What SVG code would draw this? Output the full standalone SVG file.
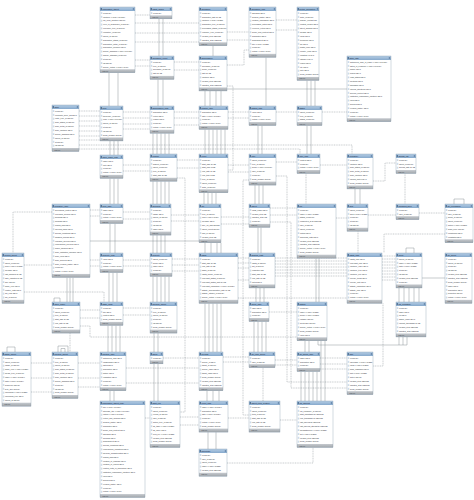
<svg xmlns="http://www.w3.org/2000/svg" width="474" height="500" viewBox="0 0 474 500">
<defs>
<linearGradient id="hg" x1="0" y1="0" x2="0" y2="1"><stop offset="0" stop-color="#b6cee6"/><stop offset="1" stop-color="#86a9cc"/></linearGradient>
<linearGradient id="fg" x1="0" y1="0" x2="0" y2="1"><stop offset="0" stop-color="#c6cacf"/><stop offset="1" stop-color="#a0a6ab"/></linearGradient>
<pattern id="ic" x="0.8" y="4" width="1.5" height="3.85" patternUnits="userSpaceOnUse"><path d="M.75 1.1L1.3 1.95L.75 2.8L.2 1.95Z" fill="#5b8cc2"/></pattern>
</defs>
<style>
.b{fill:#fff}
.o{fill:none;stroke:#7f94aa;stroke-width:.35}
.h{fill:url(#hg)}
.f{fill:url(#fg)}
.i{fill:url(#ic)}
.hl{fill:#4f6f93}
.hi{fill:#6d8db0}
.tt{font-family:"Liberation Sans",Arial,sans-serif;font-size:2px;fill:#13233a}
.r{font-family:"Liberation Sans",Arial,sans-serif;font-size:1.9px;fill:#2f353b}
.fx{font-family:"Liberation Sans",Arial,sans-serif;font-size:1.6px;fill:#3c4248}
.s{fill:none;stroke:#6f7880;stroke-width:.4}
.d{fill:none;stroke:#6f7880;stroke-width:.4;stroke-dasharray:1 .7}
</style>
<rect width="474" height="500" fill="#fff"/>
<g id="connectors">
<path class="s" d="M109 72.75V106M118 72.75V106M110 141V155M114 141V155M118 141V155M110 178.4V204M114 178.4V204M118 178.4V204M110 223.5V253M115 223.5V253M109 272.5V302M113 272.5V302M117 272.5V302M108 325.4V352M112 325.4V352M116 325.4V352M120 325.4V352M110 390.8V401M114 390.8V401"/>
<path class="s" d="M159 18.85V56M163 18.85V56M158 79.4V106M163 79.4V106M153 133.25V154M157 133.25V154M161 133.25V154M165 133.25V154M169 133.25V154M153 181.25V204M157 181.25V204M161 181.25V204M165 181.25V204M169 181.25V204M153 235.1V253M157 235.1V253M161 235.1V253M165 235.1V253M153 276.4V302M157 276.4V302M161 276.4V302M165 276.4V302M169 276.4V302M154 333.1V352M158 333.1V352M154 363.85V401M158 363.85V401"/>
<path class="s" d="M213 45.8V56M205 90.95V106M210 90.95V106M216 90.95V106M221 90.95V106M205 129.4V154M209 129.4V154M213 129.4V154M217 129.4V154M221 129.4V154M225 129.4V154M204 192.8V204M208 192.8V204M212 192.8V204M216 192.8V204M205 242.8V253M211 242.8V253M217 242.8V253M221 242.8V253M205 303.35V352M209 303.35V352M213 303.35V352M217 303.35V352M221 303.35V352M207 390.8V401M213 390.8V401M219 390.8V401M208 432.1V449M216 432.1V449"/>
<path class="s" d="M266 57.35V106M258 125.55V154M262 125.55V154M255 185.1V204M259 185.1V204M263 185.1V204M258 227.4V253M261 227.4V253M256 287.95V302M260 287.95V302M264 287.95V302M254 321.55V352M258 321.55V352M262 321.55V352M266 321.55V352"/>
<path class="s" d="M307 80.45V106M311 80.45V106M315 80.45V106M307 125.55V154M311 125.55V154M316 258.2V302M319 258.2V302M305 340.8V352M309 340.8V352M301 371.55V401M305 371.55V401M309 371.55V401M313 371.55V401M317 371.55V401M321 340.8V401M325 340.8V401"/>
<path class="s" d="M355 188.95V204M360 188.95V204M399 287.95V302M404 287.95V302M409 287.95V302M414 287.95V302M419 287.95V302M67 277.45V302M70 277.45V302M73 277.45V302"/>
<path class="s" d="M227 89H347M90 241H199M422 278H445M318 340.8V345H407V336.95M399 345V336.95M403 345V336.95"/>
<path class="s" d="M7 352V347H15V352M58 352V346H68V352M61 352V348.5H65V352M54 302V298H60V302M454 204V199H464V204M406 253V248H414V253"/>
<path class="d" d="M263 367.7V401M306 173.55V204M358 231.25V253M405 173.55V204M70 333.1V352"/>
<path class="d" d="M79 111H100M79 116H100M79 121H100M79 126H100M79 131H100M79 136H100M79 140H100M135 15H150M135 23H199M135 33H199M135 42H199M135 60H150M135 66H150M174 62H199M174 70H199M227 32H249M227 40H249M276 20H297M276 30H297M227 65H244V50H249"/>
<path class="d" d="M123 112H150M123 118H150M123 124H150M123 129H150M174 112H199M174 118H199M174 125H199M228 112H249M228 118H249M276 112H297M322 112H347M79 145H352V154M79 149H300V154M227 86H233V170H228"/>
<path class="d" d="M123 165H150M123 171H150M177 160H199M177 168H199M228 165H249M228 172H249M276 162H297M320 165H347M373 181H385V163H396"/>
<path class="d" d="M90 210H100M90 216H100M123 212H150M123 219H150M171 215H199M171 221H199M221 217H249M221 224H249M270 208H297M270 215H297M336 218H347M368 215H396M419 213H445M445 234H384V253M52 212H13V253M24 265H52M90 260H100M90 266H100M24 292H104V302"/>
<path class="d" d="M123 260H150M123 266H150M172 259H199M172 265H199M172 271H199M238 258H249M238 263H249M238 268H249M238 280H249M275 258H347M275 261H347M275 264H347M275 267H347M275 270H347M275 273H347M275 276H347M382 256H396M382 259H396M382 262H396M382 265H396M382 268H396M382 271H396M382 274H396M382 277H396M382 280H396M238 298H347"/>
<path class="d" d="M80 310H100M80 318H100M123 308H150M123 315H150M269 312H297M383 303.35V366H373M80 326H90V337H297M177 178H185V412H180M249 180H243V415H249M276 176H287V382H347M270 222H291V388H347"/>
<path class="d" d="M31 363H52M31 378H52M31 392H52M78 363H100M78 378H100M78 387H100M126 368H199M126 383H199M163 358H199M223 357H249M223 362H249M275 360H297M275 365H297M320 358H347M320 364H347M320 369H347M145 418H150M180 417H199M180 425H199M228 418H249M280 420H297M227 463H313V447.5"/>
</g>
<g id="information_object" transform="translate(100,7)"><rect class="b" width="35" height="65.75"/><rect class="h" width="35" height="4"/><rect class="hl" x="0.6" y="1" width="1.3" height="2"/><rect class="hi" x="32.8" y="1" width="1.4" height="2"/><text class="tt" x="2.4" y="2.9">information_object</text><rect class="i" x="0.8" y="4" width="1.5" height="57.75"/><text class="r"><tspan x="3" y="6.75">id INT(11)</tspan><tspan x="3" dy="3.85">identifier VARCHAR(1024)</tspan><tspan x="3" dy="3.85">oai_local_identifier INT(11)</tspan><tspan x="3" dy="3.85">level_of_description_id INT(11)</tspan><tspan x="3" dy="3.85">collection_type_id INT(11)</tspan><tspan x="3" dy="3.85">repository_id INT(11)</tspan><tspan x="3" dy="3.85">parent_id INT(11)</tspan><tspan x="3" dy="3.85">description_status_id INT(11)</tspan><tspan x="3" dy="3.85">description_detail_id INT(11)</tspan><tspan x="3" dy="3.85">description_identifier TEXT</tspan><tspan x="3" dy="3.85">source_standard VARCHAR(1024)</tspan><tspan x="3" dy="3.85">display_standard_id INT(11)</tspan><tspan x="3" dy="3.85">lft INT(11)</tspan><tspan x="3" dy="3.85">rgt INT(11)</tspan><tspan x="3" dy="3.85">source_culture VARCHAR(16)</tspan></text><rect class="f" y="62.25" width="35" height="3.5"/><text class="fx" x="2.4" y="64.75">Indexes</text><rect class="o" width="35" height="65.75"/></g>
<g id="rights_holder" transform="translate(150,7)"><rect class="b" width="22" height="11.85"/><rect class="h" width="22" height="4"/><rect class="hl" x="0.6" y="1" width="1.3" height="2"/><rect class="hi" x="19.8" y="1" width="1.4" height="2"/><text class="tt" x="2.4" y="2.9">rights_holder</text><rect class="i" x="0.8" y="4" width="1.5" height="3.85"/><text class="r"><tspan x="3" y="6.75">id INT(11)</tspan></text><rect class="f" y="8.35" width="22" height="3.5"/><text class="fx" x="2.4" y="10.85">Indexes</text><rect class="o" width="22" height="11.85"/></g>
<g id="accession" transform="translate(199,7)"><rect class="b" width="28" height="38.8"/><rect class="h" width="28" height="4"/><rect class="hl" x="0.6" y="1" width="1.3" height="2"/><rect class="hi" x="25.8" y="1" width="1.4" height="2"/><text class="tt" x="2.4" y="2.9">accession</text><rect class="i" x="0.8" y="4" width="1.5" height="30.8"/><text class="r"><tspan x="3" y="6.75">id INT(11)</tspan><tspan x="3" dy="3.85">acquisition_date DATE</tspan><tspan x="3" dy="3.85">identifier VARCHAR(255)</tspan><tspan x="3" dy="3.85">acquisition_type_id INT(11)</tspan><tspan x="3" dy="3.85">processing_status_id INT(11)</tspan><tspan x="3" dy="3.85">resource_type_id INT(11)</tspan><tspan x="3" dy="3.85">created_at DATETIME</tspan><tspan x="3" dy="3.85">updated_at DATETIME</tspan></text><rect class="f" y="35.3" width="28" height="3.5"/><text class="fx" x="2.4" y="37.8">Indexes</text><rect class="o" width="28" height="38.8"/></g>
<g id="accession_i18n" transform="translate(249,7)"><rect class="b" width="27" height="50.35"/><rect class="h" width="27" height="4"/><rect class="hl" x="0.6" y="1" width="1.3" height="2"/><rect class="hi" x="24.8" y="1" width="1.4" height="2"/><text class="tt" x="2.4" y="2.9">accession_i18n</text><rect class="i" x="0.8" y="4" width="1.5" height="42.35"/><text class="r"><tspan x="3" y="6.75">appraisal TEXT</tspan><tspan x="3" dy="3.85">archival_history TEXT</tspan><tspan x="3" dy="3.85">location_information TEXT</tspan><tspan x="3" dy="3.85">processing_notes TEXT</tspan><tspan x="3" dy="3.85">received_extent TEXT</tspan><tspan x="3" dy="3.85">scope_and_content TEXT</tspan><tspan x="3" dy="3.85">acquisition TEXT</tspan><tspan x="3" dy="3.85">arrangement TEXT</tspan><tspan x="3" dy="3.85">title VARCHAR(255)</tspan><tspan x="3" dy="3.85">id INT(11)</tspan><tspan x="3" dy="3.85">culture VARCHAR(16)</tspan></text><rect class="f" y="46.85" width="27" height="3.5"/><text class="fx" x="2.4" y="49.35">Indexes</text><rect class="o" width="27" height="50.35"/></g>
<g id="contact_information" transform="translate(297,7)"><rect class="b" width="22" height="73.45"/><rect class="h" width="22" height="4"/><rect class="hl" x="0.6" y="1" width="1.3" height="2"/><rect class="hi" x="19.8" y="1" width="1.4" height="2"/><text class="tt" x="2.2" y="2.9" style="font-size:1.85px">contact_information</text><rect class="i" x="0.8" y="4" width="1.5" height="65.45"/><text class="r"><tspan x="3" y="6.75">id INT(11)</tspan><tspan x="3" dy="3.85">actor_id INT(11)</tspan><tspan x="3" dy="3.85">primary_contact INT</tspan><tspan x="3" dy="3.85">contact_person TEXT</tspan><tspan x="3" dy="3.85">street_address TEXT</tspan><tspan x="3" dy="3.85">website TEXT</tspan><tspan x="3" dy="3.85">email TEXT</tspan><tspan x="3" dy="3.85">telephone TEXT</tspan><tspan x="3" dy="3.85">fax TEXT</tspan><tspan x="3" dy="3.85">postal_code TEXT</tspan><tspan x="3" dy="3.85">country_code TEXT</tspan><tspan x="3" dy="3.85">longitude FLOAT</tspan><tspan x="3" dy="3.85">latitude FLOAT</tspan><tspan x="3" dy="3.85">region TEXT</tspan><tspan x="3" dy="3.85">city TEXT</tspan><tspan x="3" dy="3.85">note TEXT</tspan><tspan x="3" dy="3.85">serial_number INT(11)</tspan></text><rect class="f" y="69.95" width="22" height="3.5"/><text class="fx" x="2.4" y="72.45">Indexes</text><rect class="o" width="22" height="73.45"/></g>
<g id="accession_event" transform="translate(150,56)"><rect class="b" width="24" height="23.4"/><rect class="h" width="24" height="4"/><rect class="hl" x="0.6" y="1" width="1.3" height="2"/><rect class="hi" x="21.8" y="1" width="1.4" height="2"/><text class="tt" x="2.4" y="2.9">accession_event</text><rect class="i" x="0.8" y="4" width="1.5" height="15.4"/><text class="r"><tspan x="3" y="6.75">id INT(11)</tspan><tspan x="3" dy="3.85">type_id INT(11)</tspan><tspan x="3" dy="3.85">accession_id INT(11)</tspan><tspan x="3" dy="3.85">date DATE</tspan></text><rect class="f" y="19.9" width="24" height="3.5"/><text class="fx" x="2.4" y="22.4">Indexes</text><rect class="o" width="24" height="23.4"/></g>
<g id="deaccession" transform="translate(199,56)"><rect class="b" width="28" height="34.95"/><rect class="h" width="28" height="4"/><rect class="hl" x="0.6" y="1" width="1.3" height="2"/><rect class="hi" x="25.8" y="1" width="1.4" height="2"/><text class="tt" x="2.4" y="2.9">deaccession</text><rect class="i" x="0.8" y="4" width="1.5" height="26.95"/><text class="r"><tspan x="3" y="6.75">id INT(11)</tspan><tspan x="3" dy="3.85">accession_id INT(11)</tspan><tspan x="3" dy="3.85">scope_id INT(11)</tspan><tspan x="3" dy="3.85">date DATE</tspan><tspan x="3" dy="3.85">identifier TEXT</tspan><tspan x="3" dy="3.85">created_at DATETIME</tspan><tspan x="3" dy="3.85">updated_at DATETIME</tspan></text><rect class="f" y="31.45" width="28" height="3.5"/><text class="fx" x="2.4" y="33.95">Indexes</text><rect class="o" width="28" height="34.95"/></g>
<g id="actor_i18n" transform="translate(347,56)"><rect class="b" width="44" height="65.75"/><rect class="h" width="44" height="4"/><rect class="hl" x="0.6" y="1" width="1.3" height="2"/><rect class="hi" x="41.8" y="1" width="1.4" height="2"/><text class="tt" x="2.4" y="2.9">actor_i18n</text><rect class="i" x="0.8" y="4" width="1.5" height="57.75"/><text class="r"><tspan x="3" y="6.75">authorized_form_of_name VARCHAR(1024)</tspan><tspan x="3" dy="3.85">dates_of_existence VARCHAR(1024)</tspan><tspan x="3" dy="3.85">history TEXT</tspan><tspan x="3" dy="3.85">places TEXT</tspan><tspan x="3" dy="3.85">legal_status TEXT</tspan><tspan x="3" dy="3.85">functions TEXT</tspan><tspan x="3" dy="3.85">mandates TEXT</tspan><tspan x="3" dy="3.85">internal_structures TEXT</tspan><tspan x="3" dy="3.85">general_context TEXT</tspan><tspan x="3" dy="3.85">institution_responsible_identifier TEXT</tspan><tspan x="3" dy="3.85">rules TEXT</tspan><tspan x="3" dy="3.85">sources TEXT</tspan><tspan x="3" dy="3.85">revision_history TEXT</tspan><tspan x="3" dy="3.85">id INT(11)</tspan><tspan x="3" dy="3.85">culture VARCHAR(16)</tspan></text><rect class="f" y="62.25" width="44" height="3.5"/><text class="fx" x="2.4" y="64.75">Indexes</text><rect class="o" width="44" height="65.75"/></g>
<g id="actor" transform="translate(52,105)"><rect class="b" width="27" height="46.5"/><rect class="h" width="27" height="4"/><rect class="hl" x="0.6" y="1" width="1.3" height="2"/><rect class="hi" x="24.8" y="1" width="1.4" height="2"/><text class="tt" x="2.4" y="2.9">actor</text><rect class="i" x="0.8" y="4" width="1.5" height="38.5"/><text class="r"><tspan x="3" y="6.75">id INT(11)</tspan><tspan x="3" dy="3.85">corporate_body_ids TEXT</tspan><tspan x="3" dy="3.85">entity_type_id INT(11)</tspan><tspan x="3" dy="3.85">desc_status_id INT(11)</tspan><tspan x="3" dy="3.85">desc_detail_id INT(11)</tspan><tspan x="3" dy="3.85">desc_identifier TEXT</tspan><tspan x="3" dy="3.85">source_standard TEXT</tspan><tspan x="3" dy="3.85">parent_id INT(11)</tspan><tspan x="3" dy="3.85">lft INT(11)</tspan><tspan x="3" dy="3.85">rgt INT(11)</tspan></text><rect class="f" y="43" width="27" height="3.5"/><text class="fx" x="2.4" y="45.5">Indexes</text><rect class="o" width="27" height="46.5"/></g>
<g id="term" transform="translate(100,106)"><rect class="b" width="23" height="34.95"/><rect class="h" width="23" height="4"/><rect class="hl" x="0.6" y="1" width="1.3" height="2"/><rect class="hi" x="20.8" y="1" width="1.4" height="2"/><text class="tt" x="2.4" y="2.9">term</text><rect class="i" x="0.8" y="4" width="1.5" height="26.95"/><text class="r"><tspan x="3" y="6.75">id INT(11)</tspan><tspan x="3" dy="3.85">taxonomy_id INT(11)</tspan><tspan x="3" dy="3.85">code VARCHAR(1024)</tspan><tspan x="3" dy="3.85">parent_id INT(11)</tspan><tspan x="3" dy="3.85">lft INT(11)</tspan><tspan x="3" dy="3.85">rgt INT(11)</tspan><tspan x="3" dy="3.85">serial_number INT(11)</tspan></text><rect class="f" y="31.45" width="23" height="3.5"/><text class="fx" x="2.4" y="33.95">Indexes</text><rect class="o" width="23" height="34.95"/></g>
<g id="deaccession_i18n" transform="translate(150,106)"><rect class="b" width="24" height="27.25"/><rect class="h" width="24" height="4"/><rect class="hl" x="0.6" y="1" width="1.3" height="2"/><rect class="hi" x="21.8" y="1" width="1.4" height="2"/><text class="tt" x="2.4" y="2.9">deaccession_i18n</text><rect class="i" x="0.8" y="4" width="1.5" height="19.25"/><text class="r"><tspan x="3" y="6.75">description TEXT</tspan><tspan x="3" dy="3.85">extent TEXT</tspan><tspan x="3" dy="3.85">reason TEXT</tspan><tspan x="3" dy="3.85">id INT(11)</tspan><tspan x="3" dy="3.85">culture VARCHAR(16)</tspan></text><rect class="f" y="23.75" width="24" height="3.5"/><text class="fx" x="2.4" y="26.25">Indexes</text><rect class="o" width="24" height="27.25"/></g>
<g id="relation_i18n" transform="translate(199,106)"><rect class="b" width="29" height="23.4"/><rect class="h" width="29" height="4"/><rect class="hl" x="0.6" y="1" width="1.3" height="2"/><rect class="hi" x="26.8" y="1" width="1.4" height="2"/><text class="tt" x="2.4" y="2.9">relation_i18n</text><rect class="i" x="0.8" y="4" width="1.5" height="15.4"/><text class="r"><tspan x="3" y="6.75">description TEXT</tspan><tspan x="3" dy="3.85">date VARCHAR(1024)</tspan><tspan x="3" dy="3.85">id INT(11)</tspan><tspan x="3" dy="3.85">culture VARCHAR(16)</tspan></text><rect class="f" y="19.9" width="29" height="3.5"/><text class="fx" x="2.4" y="22.4">Indexes</text><rect class="o" width="29" height="23.4"/></g>
<g id="setting_i18n" transform="translate(249,106)"><rect class="b" width="27" height="19.55"/><rect class="h" width="27" height="4"/><rect class="hl" x="0.6" y="1" width="1.3" height="2"/><rect class="hi" x="24.8" y="1" width="1.4" height="2"/><text class="tt" x="2.4" y="2.9">setting_i18n</text><rect class="i" x="0.8" y="4" width="1.5" height="11.55"/><text class="r"><tspan x="3" y="6.75">value TEXT</tspan><tspan x="3" dy="3.85">id INT(11)</tspan><tspan x="3" dy="3.85">culture VARCHAR(16)</tspan></text><rect class="f" y="16.05" width="27" height="3.5"/><text class="fx" x="2.4" y="18.55">Indexes</text><rect class="o" width="27" height="19.55"/></g>
<g id="status" transform="translate(297,106)"><rect class="b" width="25" height="19.55"/><rect class="h" width="25" height="4"/><rect class="hl" x="0.6" y="1" width="1.3" height="2"/><rect class="hi" x="22.8" y="1" width="1.4" height="2"/><text class="tt" x="2.4" y="2.9">status</text><rect class="i" x="0.8" y="4" width="1.5" height="11.55"/><text class="r"><tspan x="3" y="6.75">object_id INT(11)</tspan><tspan x="3" dy="3.85">type_id INT(11)</tspan><tspan x="3" dy="3.85">status_id INT(11)</tspan></text><rect class="f" y="16.05" width="25" height="3.5"/><text class="fx" x="2.4" y="18.55">Indexes</text><rect class="o" width="25" height="19.55"/></g>
<g id="other_name_i18n" transform="translate(100,155)"><rect class="b" width="23" height="23.4"/><rect class="h" width="23" height="4"/><rect class="hl" x="0.6" y="1" width="1.3" height="2"/><rect class="hi" x="20.8" y="1" width="1.4" height="2"/><text class="tt" x="2.4" y="2.9">other_name_i18n</text><rect class="i" x="0.8" y="4" width="1.5" height="15.4"/><text class="r"><tspan x="3" y="6.75">name TEXT</tspan><tspan x="3" dy="3.85">note TEXT</tspan><tspan x="3" dy="3.85">id INT(11)</tspan><tspan x="3" dy="3.85">culture VARCHAR(16)</tspan></text><rect class="f" y="19.9" width="23" height="3.5"/><text class="fx" x="2.4" y="22.4">Indexes</text><rect class="o" width="23" height="23.4"/></g>
<g id="relation" transform="translate(150,154)"><rect class="b" width="27" height="27.25"/><rect class="h" width="27" height="4"/><rect class="hl" x="0.6" y="1" width="1.3" height="2"/><rect class="hi" x="24.8" y="1" width="1.4" height="2"/><text class="tt" x="2.4" y="2.9">relation</text><rect class="i" x="0.8" y="4" width="1.5" height="19.25"/><text class="r"><tspan x="3" y="6.75">id INT(11)</tspan><tspan x="3" dy="3.85">subject_id INT(11)</tspan><tspan x="3" dy="3.85">object_id INT(11)</tspan><tspan x="3" dy="3.85">type_id INT(11)</tspan><tspan x="3" dy="3.85">start_date DATE</tspan></text><rect class="f" y="23.75" width="27" height="3.5"/><text class="fx" x="2.4" y="26.25">Indexes</text><rect class="o" width="27" height="27.25"/></g>
<g id="event" transform="translate(199,154)"><rect class="b" width="29" height="38.8"/><rect class="h" width="29" height="4"/><rect class="hl" x="0.6" y="1" width="1.3" height="2"/><rect class="hi" x="26.8" y="1" width="1.4" height="2"/><text class="tt" x="2.4" y="2.9">event</text><rect class="i" x="0.8" y="4" width="1.5" height="30.8"/><text class="r"><tspan x="3" y="6.75">id INT(11)</tspan><tspan x="3" dy="3.85">start_date DATE</tspan><tspan x="3" dy="3.85">start_time TIME</tspan><tspan x="3" dy="3.85">end_date DATE</tspan><tspan x="3" dy="3.85">end_time TIME</tspan><tspan x="3" dy="3.85">type_id INT(11)</tspan><tspan x="3" dy="3.85">object_id INT(11)</tspan><tspan x="3" dy="3.85">actor_id INT(11)</tspan></text><rect class="f" y="35.3" width="29" height="3.5"/><text class="fx" x="2.4" y="37.8">Indexes</text><rect class="o" width="29" height="38.8"/></g>
<g id="note" transform="translate(249,154)"><rect class="b" width="27" height="31.1"/><rect class="h" width="27" height="4"/><rect class="hl" x="0.6" y="1" width="1.3" height="2"/><rect class="hi" x="24.8" y="1" width="1.4" height="2"/><text class="tt" x="2.4" y="2.9">note</text><rect class="i" x="0.8" y="4" width="1.5" height="23.1"/><text class="r"><tspan x="3" y="6.75">object_id INT(11)</tspan><tspan x="3" dy="3.85">type_id INT(11)</tspan><tspan x="3" dy="3.85">scope VARCHAR(1024)</tspan><tspan x="3" dy="3.85">user_id INT(11)</tspan><tspan x="3" dy="3.85">id INT(11)</tspan><tspan x="3" dy="3.85">serial_number INT(11)</tspan></text><rect class="f" y="27.6" width="27" height="3.5"/><text class="fx" x="2.4" y="30.1">Indexes</text><rect class="o" width="27" height="31.1"/></g>
<g id="note_i18n" transform="translate(297,154)"><rect class="b" width="23" height="19.55"/><rect class="h" width="23" height="4"/><rect class="hl" x="0.6" y="1" width="1.3" height="2"/><rect class="hi" x="20.8" y="1" width="1.4" height="2"/><text class="tt" x="2.4" y="2.9">note_i18n</text><rect class="i" x="0.8" y="4" width="1.5" height="11.55"/><text class="r"><tspan x="3" y="6.75">content TEXT</tspan><tspan x="3" dy="3.85">id INT(11)</tspan><tspan x="3" dy="3.85">culture VARCHAR(16)</tspan></text><rect class="f" y="16.05" width="23" height="3.5"/><text class="fx" x="2.4" y="18.55">Indexes</text><rect class="o" width="23" height="19.55"/></g>
<g id="repository" transform="translate(347,154)"><rect class="b" width="26" height="34.95"/><rect class="h" width="26" height="4"/><rect class="hl" x="0.6" y="1" width="1.3" height="2"/><rect class="hi" x="23.8" y="1" width="1.4" height="2"/><text class="tt" x="2.4" y="2.9">repository</text><rect class="i" x="0.8" y="4" width="1.5" height="26.95"/><text class="r"><tspan x="3" y="6.75">id INT(11)</tspan><tspan x="3" dy="3.85">identifier TEXT</tspan><tspan x="3" dy="3.85">desc_status_id INT(11)</tspan><tspan x="3" dy="3.85">desc_detail_id INT(11)</tspan><tspan x="3" dy="3.85">desc_identifier TEXT</tspan><tspan x="3" dy="3.85">upload_limit FLOAT</tspan><tspan x="3" dy="3.85">serial_number INT(11)</tspan></text><rect class="f" y="31.45" width="26" height="3.5"/><text class="fx" x="2.4" y="33.95">Indexes</text><rect class="o" width="26" height="34.95"/></g>
<g id="access_log" transform="translate(396,154)"><rect class="b" width="20" height="19.55"/><rect class="h" width="20" height="4"/><rect class="hl" x="0.6" y="1" width="1.3" height="2"/><rect class="hi" x="17.8" y="1" width="1.4" height="2"/><text class="tt" x="2.4" y="2.9">access_log</text><rect class="i" x="0.8" y="4" width="1.5" height="11.55"/><text class="r"><tspan x="3" y="6.75">id INT(11)</tspan><tspan x="3" dy="3.85">object_id INT(11)</tspan><tspan x="3" dy="3.85">access_date DATE</tspan></text><rect class="f" y="16.05" width="20" height="3.5"/><text class="fx" x="2.4" y="18.55">Indexes</text><rect class="o" width="20" height="19.55"/></g>
<g id="repository_i18n" transform="translate(52,204)"><rect class="b" width="38" height="73.45"/><rect class="h" width="38" height="4"/><rect class="hl" x="0.6" y="1" width="1.3" height="2"/><rect class="hi" x="35.8" y="1" width="1.4" height="2"/><text class="tt" x="2.4" y="2.9">repository_i18n</text><rect class="i" x="0.8" y="4" width="1.5" height="65.45"/><text class="r"><tspan x="3" y="6.75">geocultural_context TEXT</tspan><tspan x="3" dy="3.85">collecting_policies TEXT</tspan><tspan x="3" dy="3.85">buildings TEXT</tspan><tspan x="3" dy="3.85">holdings TEXT</tspan><tspan x="3" dy="3.85">finding_aids TEXT</tspan><tspan x="3" dy="3.85">opening_times TEXT</tspan><tspan x="3" dy="3.85">access_conditions TEXT</tspan><tspan x="3" dy="3.85">disabled_access TEXT</tspan><tspan x="3" dy="3.85">research_services TEXT</tspan><tspan x="3" dy="3.85">reproduction_services TEXT</tspan><tspan x="3" dy="3.85">public_facilities TEXT</tspan><tspan x="3" dy="3.85">desc_institution_identifier TEXT</tspan><tspan x="3" dy="3.85">desc_rules TEXT</tspan><tspan x="3" dy="3.85">desc_sources TEXT</tspan><tspan x="3" dy="3.85">desc_revision_history TEXT</tspan><tspan x="3" dy="3.85">id INT(11)</tspan><tspan x="3" dy="3.85">culture VARCHAR(16)</tspan></text><rect class="f" y="69.95" width="38" height="3.5"/><text class="fx" x="2.4" y="72.45">Indexes</text><rect class="o" width="38" height="73.45"/></g>
<g id="term_i18n" transform="translate(100,204)"><rect class="b" width="23" height="19.55"/><rect class="h" width="23" height="4"/><rect class="hl" x="0.6" y="1" width="1.3" height="2"/><rect class="hi" x="20.8" y="1" width="1.4" height="2"/><text class="tt" x="2.4" y="2.9">term_i18n</text><rect class="i" x="0.8" y="4" width="1.5" height="11.55"/><text class="r"><tspan x="3" y="6.75">name TEXT</tspan><tspan x="3" dy="3.85">id INT(11)</tspan><tspan x="3" dy="3.85">culture VARCHAR(16)</tspan></text><rect class="f" y="16.05" width="23" height="3.5"/><text class="fx" x="2.4" y="18.55">Indexes</text><rect class="o" width="23" height="19.55"/></g>
<g id="taxonomy" transform="translate(150,204)"><rect class="b" width="21" height="31.1"/><rect class="h" width="21" height="4"/><rect class="hl" x="0.6" y="1" width="1.3" height="2"/><rect class="hi" x="18.8" y="1" width="1.4" height="2"/><text class="tt" x="2.4" y="2.9">taxonomy</text><rect class="i" x="0.8" y="4" width="1.5" height="23.1"/><text class="r"><tspan x="3" y="6.75">id INT(11)</tspan><tspan x="3" dy="3.85">usage TEXT</tspan><tspan x="3" dy="3.85">parent_id INT(11)</tspan><tspan x="3" dy="3.85">lft INT(11)</tspan><tspan x="3" dy="3.85">rgt INT(11)</tspan><tspan x="3" dy="3.85">name TEXT</tspan></text><rect class="f" y="27.6" width="21" height="3.5"/><text class="fx" x="2.4" y="30.1">Indexes</text><rect class="o" width="21" height="31.1"/></g>
<g id="aip" transform="translate(199,204)"><rect class="b" width="22" height="38.8"/><rect class="h" width="22" height="4"/><rect class="hl" x="0.6" y="1" width="1.3" height="2"/><rect class="hi" x="19.8" y="1" width="1.4" height="2"/><text class="tt" x="2.4" y="2.9">aip</text><rect class="i" x="0.8" y="4" width="1.5" height="30.8"/><text class="r"><tspan x="3" y="6.75">id INT(11)</tspan><tspan x="3" dy="3.85">type_id INT(11)</tspan><tspan x="3" dy="3.85">uuid VARCHAR(36)</tspan><tspan x="3" dy="3.85">filename TEXT</tspan><tspan x="3" dy="3.85">size_on_disk BIGINT</tspan><tspan x="3" dy="3.85">object_count INT(11)</tspan><tspan x="3" dy="3.85">part_of INT(11)</tspan><tspan x="3" dy="3.85">created_at DATE</tspan></text><rect class="f" y="35.3" width="22" height="3.5"/><text class="fx" x="2.4" y="37.8">Indexes</text><rect class="o" width="22" height="38.8"/></g>
<g id="object" transform="translate(249,204)"><rect class="b" width="21" height="23.4"/><rect class="h" width="21" height="4"/><rect class="hl" x="0.6" y="1" width="1.3" height="2"/><rect class="hi" x="18.8" y="1" width="1.4" height="2"/><text class="tt" x="2.4" y="2.9">object</text><rect class="i" x="0.8" y="4" width="1.5" height="15.4"/><text class="r"><tspan x="3" y="6.75">class_name TEXT</tspan><tspan x="3" dy="3.85">created_at DATE</tspan><tspan x="3" dy="3.85">updated_at DATE</tspan><tspan x="3" dy="3.85">id INT(11)</tspan></text><rect class="f" y="19.9" width="21" height="3.5"/><text class="fx" x="2.4" y="22.4">Indexes</text><rect class="o" width="21" height="23.4"/></g>
<g id="job" transform="translate(297,204)"><rect class="b" width="39" height="54.2"/><rect class="h" width="39" height="4"/><rect class="hl" x="0.6" y="1" width="1.3" height="2"/><rect class="hi" x="36.8" y="1" width="1.4" height="2"/><text class="tt" x="2.4" y="2.9">job</text><rect class="i" x="0.8" y="4" width="1.5" height="46.2"/><text class="r"><tspan x="3" y="6.75">id INT(11)</tspan><tspan x="3" dy="3.85">name VARCHAR(255)</tspan><tspan x="3" dy="3.85">status_id INT(11)</tspan><tspan x="3" dy="3.85">completed_at DATETIME</tspan><tspan x="3" dy="3.85">user_id INT(11)</tspan><tspan x="3" dy="3.85">object_id INT(11)</tspan><tspan x="3" dy="3.85">output TEXT</tspan><tspan x="3" dy="3.85">download_path TEXT</tspan><tspan x="3" dy="3.85">created_at DATETIME</tspan><tspan x="3" dy="3.85">updated_at DATETIME</tspan><tspan x="3" dy="3.85">source_culture VARCHAR(16)</tspan><tspan x="3" dy="3.85">serial_number INT(11)</tspan></text><rect class="f" y="50.7" width="39" height="3.5"/><text class="fx" x="2.4" y="53.2">Indexes</text><rect class="o" width="39" height="54.2"/></g>
<g id="slug" transform="translate(347,204)"><rect class="b" width="21" height="27.25"/><rect class="h" width="21" height="4"/><rect class="hl" x="0.6" y="1" width="1.3" height="2"/><rect class="hi" x="18.8" y="1" width="1.4" height="2"/><text class="tt" x="2.4" y="2.9">slug</text><rect class="i" x="0.8" y="4" width="1.5" height="19.25"/><text class="r"><tspan x="3" y="6.75">object_id INT(11)</tspan><tspan x="3" dy="3.85">slug VARCHAR(255)</tspan><tspan x="3" dy="3.85">id INT(11)</tspan><tspan x="3" dy="3.85">lft INT(11)</tspan><tspan x="3" dy="3.85">rgt INT(11)</tspan></text><rect class="f" y="23.75" width="21" height="3.5"/><text class="fx" x="2.4" y="26.25">Indexes</text><rect class="o" width="21" height="27.25"/></g>
<g id="clipboard_save" transform="translate(396,204)"><rect class="b" width="23" height="15.7"/><rect class="h" width="23" height="4"/><rect class="hl" x="0.6" y="1" width="1.3" height="2"/><rect class="hi" x="20.8" y="1" width="1.4" height="2"/><text class="tt" x="2.4" y="2.9">clipboard_save</text><rect class="i" x="0.8" y="4" width="1.5" height="7.7"/><text class="r"><tspan x="3" y="6.75">id INT(11)</tspan><tspan x="3" dy="3.85">user_id INT(11)</tspan></text><rect class="f" y="12.2" width="23" height="3.5"/><text class="fx" x="2.4" y="14.7">Indexes</text><rect class="o" width="23" height="15.7"/></g>
<g id="acl_permission" transform="translate(445,204)"><rect class="b" width="28" height="38.8"/><rect class="h" width="28" height="4"/><rect class="hl" x="0.6" y="1" width="1.3" height="2"/><rect class="hi" x="25.8" y="1" width="1.4" height="2"/><text class="tt" x="2.4" y="2.9">acl_permission</text><rect class="i" x="0.8" y="4" width="1.5" height="30.8"/><text class="r"><tspan x="3" y="6.75">id INT(11)</tspan><tspan x="3" dy="3.85">user_id INT(11)</tspan><tspan x="3" dy="3.85">group_id INT(11)</tspan><tspan x="3" dy="3.85">object_id INT(11)</tspan><tspan x="3" dy="3.85">action VARCHAR(255)</tspan><tspan x="3" dy="3.85">grant_deny INT(11)</tspan><tspan x="3" dy="3.85">conditional TEXT</tspan><tspan x="3" dy="3.85">constants TEXT</tspan></text><rect class="f" y="35.3" width="28" height="3.5"/><text class="fx" x="2.4" y="37.8">Indexes</text><rect class="o" width="28" height="38.8"/></g>
<g id="premis_object" transform="translate(2,253)"><rect class="b" width="22" height="50.35"/><rect class="h" width="22" height="4"/><rect class="hl" x="0.6" y="1" width="1.3" height="2"/><rect class="hi" x="19.8" y="1" width="1.4" height="2"/><text class="tt" x="2.4" y="2.9">premis_object</text><rect class="i" x="0.8" y="4" width="1.5" height="42.35"/><text class="r"><tspan x="3" y="6.75">id INT(11)</tspan><tspan x="3" dy="3.85">object_id INT(11)</tspan><tspan x="3" dy="3.85">puid VARCHAR(255)</tspan><tspan x="3" dy="3.85">filename TEXT</tspan><tspan x="3" dy="3.85">last_modified DATE</tspan><tspan x="3" dy="3.85">date_ingested DATE</tspan><tspan x="3" dy="3.85">size INT(11)</tspan><tspan x="3" dy="3.85">mime_type TEXT</tspan><tspan x="3" dy="3.85">relative_path TEXT</tspan><tspan x="3" dy="3.85">aip_uuid TEXT</tspan><tspan x="3" dy="3.85">aip_id INT(11)</tspan></text><rect class="f" y="46.85" width="22" height="3.5"/><text class="fx" x="2.4" y="49.35">Indexes</text><rect class="o" width="22" height="50.35"/></g>
<g id="property_i18n" transform="translate(100,253)"><rect class="b" width="23" height="19.55"/><rect class="h" width="23" height="4"/><rect class="hl" x="0.6" y="1" width="1.3" height="2"/><rect class="hi" x="20.8" y="1" width="1.4" height="2"/><text class="tt" x="2.4" y="2.9">property_i18n</text><rect class="i" x="0.8" y="4" width="1.5" height="11.55"/><text class="r"><tspan x="3" y="6.75">value TEXT</tspan><tspan x="3" dy="3.85">id INT(11)</tspan><tspan x="3" dy="3.85">culture VARCHAR(16)</tspan></text><rect class="f" y="16.05" width="23" height="3.5"/><text class="fx" x="2.4" y="18.55">Indexes</text><rect class="o" width="23" height="19.55"/></g>
<g id="property" transform="translate(150,253)"><rect class="b" width="22" height="23.4"/><rect class="h" width="22" height="4"/><rect class="hl" x="0.6" y="1" width="1.3" height="2"/><rect class="hi" x="19.8" y="1" width="1.4" height="2"/><text class="tt" x="2.4" y="2.9">property</text><rect class="i" x="0.8" y="4" width="1.5" height="15.4"/><text class="r"><tspan x="3" y="6.75">object_id INT(11)</tspan><tspan x="3" dy="3.85">scope TEXT</tspan><tspan x="3" dy="3.85">name TEXT</tspan><tspan x="3" dy="3.85">id INT(11)</tspan></text><rect class="f" y="19.9" width="22" height="3.5"/><text class="fx" x="2.4" y="22.4">Indexes</text><rect class="o" width="22" height="23.4"/></g>
<g id="rights" transform="translate(199,253)"><rect class="b" width="39" height="50.35"/><rect class="h" width="39" height="4"/><rect class="hl" x="0.6" y="1" width="1.3" height="2"/><rect class="hi" x="36.8" y="1" width="1.4" height="2"/><text class="tt" x="2.4" y="2.9">rights</text><rect class="i" x="0.8" y="4" width="1.5" height="42.35"/><text class="r"><tspan x="3" y="6.75">id INT(11)</tspan><tspan x="3" dy="3.85">start_date DATE</tspan><tspan x="3" dy="3.85">end_date DATE</tspan><tspan x="3" dy="3.85">basis_id INT(11)</tspan><tspan x="3" dy="3.85">rights_holder_id INT(11)</tspan><tspan x="3" dy="3.85">copyright_status_id INT(11)</tspan><tspan x="3" dy="3.85">copyright_status_date DATE</tspan><tspan x="3" dy="3.85">copyright_jurisdiction VARCHAR(1024)</tspan><tspan x="3" dy="3.85">statute_determination_date DATE</tspan><tspan x="3" dy="3.85">statute_citation_id INT(11)</tspan><tspan x="3" dy="3.85">source_culture VARCHAR(16)</tspan></text><rect class="f" y="46.85" width="39" height="3.5"/><text class="fx" x="2.4" y="49.35">Indexes</text><rect class="o" width="39" height="50.35"/></g>
<g id="granted_right" transform="translate(249,253)"><rect class="b" width="26" height="34.95"/><rect class="h" width="26" height="4"/><rect class="hl" x="0.6" y="1" width="1.3" height="2"/><rect class="hi" x="23.8" y="1" width="1.4" height="2"/><text class="tt" x="2.4" y="2.9">granted_right</text><rect class="i" x="0.8" y="4" width="1.5" height="26.95"/><text class="r"><tspan x="3" y="6.75">id INT(11)</tspan><tspan x="3" dy="3.85">rights_id INT(11)</tspan><tspan x="3" dy="3.85">act_id INT(11)</tspan><tspan x="3" dy="3.85">restriction INT</tspan><tspan x="3" dy="3.85">start_date DATE</tspan><tspan x="3" dy="3.85">end_date DATE</tspan><tspan x="3" dy="3.85">notes TEXT</tspan></text><rect class="f" y="31.45" width="26" height="3.5"/><text class="fx" x="2.4" y="33.95">Indexes</text><rect class="o" width="26" height="34.95"/></g>
<g id="rights_i18n" transform="translate(347,253)"><rect class="b" width="35" height="50.35"/><rect class="h" width="35" height="4"/><rect class="hl" x="0.6" y="1" width="1.3" height="2"/><rect class="hi" x="32.8" y="1" width="1.4" height="2"/><text class="tt" x="2.4" y="2.9">rights_i18n</text><rect class="i" x="0.8" y="4" width="1.5" height="42.35"/><text class="r"><tspan x="3" y="6.75">rights_note TEXT</tspan><tspan x="3" dy="3.85">copyright_note TEXT</tspan><tspan x="3" dy="3.85">identifier_value TEXT</tspan><tspan x="3" dy="3.85">identifier_type TEXT</tspan><tspan x="3" dy="3.85">identifier_role TEXT</tspan><tspan x="3" dy="3.85">license_terms TEXT</tspan><tspan x="3" dy="3.85">license_note TEXT</tspan><tspan x="3" dy="3.85">statute_jurisdiction TEXT</tspan><tspan x="3" dy="3.85">statute_note TEXT</tspan><tspan x="3" dy="3.85">id INT(11)</tspan><tspan x="3" dy="3.85">culture VARCHAR(16)</tspan></text><rect class="f" y="46.85" width="35" height="3.5"/><text class="fx" x="2.4" y="49.35">Indexes</text><rect class="o" width="35" height="50.35"/></g>
<g id="menu" transform="translate(396,253)"><rect class="b" width="26" height="34.95"/><rect class="h" width="26" height="4"/><rect class="hl" x="0.6" y="1" width="1.3" height="2"/><rect class="hi" x="23.8" y="1" width="1.4" height="2"/><text class="tt" x="2.4" y="2.9">menu</text><rect class="i" x="0.8" y="4" width="1.5" height="26.95"/><text class="r"><tspan x="3" y="6.75">parent_id INT(11)</tspan><tspan x="3" dy="3.85">name VARCHAR(255)</tspan><tspan x="3" dy="3.85">path VARCHAR(255)</tspan><tspan x="3" dy="3.85">lft INT(11)</tspan><tspan x="3" dy="3.85">rgt INT(11)</tspan><tspan x="3" dy="3.85">created_at DATETIME</tspan><tspan x="3" dy="3.85">id INT(11)</tspan></text><rect class="f" y="31.45" width="26" height="3.5"/><text class="fx" x="2.4" y="33.95">Indexes</text><rect class="o" width="26" height="34.95"/></g>
<g id="acl_group" transform="translate(445,253)"><rect class="b" width="27" height="50.35"/><rect class="h" width="27" height="4"/><rect class="hl" x="0.6" y="1" width="1.3" height="2"/><rect class="hi" x="24.8" y="1" width="1.4" height="2"/><text class="tt" x="2.4" y="2.9">acl_group</text><rect class="i" x="0.8" y="4" width="1.5" height="42.35"/><text class="r"><tspan x="3" y="6.75">id INT(11)</tspan><tspan x="3" dy="3.85">parent_id INT(11)</tspan><tspan x="3" dy="3.85">lft INT(11)</tspan><tspan x="3" dy="3.85">rgt INT(11)</tspan><tspan x="3" dy="3.85">created_at DATETIME</tspan><tspan x="3" dy="3.85">updated_at DATETIME</tspan><tspan x="3" dy="3.85">serial_number INT(11)</tspan><tspan x="3" dy="3.85">name TEXT</tspan><tspan x="3" dy="3.85">description TEXT</tspan><tspan x="3" dy="3.85">protected INT(11)</tspan><tspan x="3" dy="3.85">culture VARCHAR(16)</tspan></text><rect class="f" y="46.85" width="27" height="3.5"/><text class="fx" x="2.4" y="49.35">Indexes</text><rect class="o" width="27" height="50.35"/></g>
<g id="other_name" transform="translate(52,302)"><rect class="b" width="28" height="31.1"/><rect class="h" width="28" height="4"/><rect class="hl" x="0.6" y="1" width="1.3" height="2"/><rect class="hi" x="25.8" y="1" width="1.4" height="2"/><text class="tt" x="2.4" y="2.9">other_name</text><rect class="i" x="0.8" y="4" width="1.5" height="23.1"/><text class="r"><tspan x="3" y="6.75">id INT(11)</tspan><tspan x="3" dy="3.85">object_id INT(11)</tspan><tspan x="3" dy="3.85">type_id INT(11)</tspan><tspan x="3" dy="3.85">start_date DATE</tspan><tspan x="3" dy="3.85">end_date DATE</tspan><tspan x="3" dy="3.85">serial_number INT(11)</tspan></text><rect class="f" y="27.6" width="28" height="3.5"/><text class="fx" x="2.4" y="30.1">Indexes</text><rect class="o" width="28" height="31.1"/></g>
<g id="static_page" transform="translate(100,302)"><rect class="b" width="23" height="23.4"/><rect class="h" width="23" height="4"/><rect class="hl" x="0.6" y="1" width="1.3" height="2"/><rect class="hi" x="20.8" y="1" width="1.4" height="2"/><text class="tt" x="2.4" y="2.9">static_page</text><rect class="i" x="0.8" y="4" width="1.5" height="15.4"/><text class="r"><tspan x="3" y="6.75">id INT(11)</tspan><tspan x="3" dy="3.85">title TEXT</tspan><tspan x="3" dy="3.85">content TEXT</tspan><tspan x="3" dy="3.85">serial_number INT(11)</tspan></text><rect class="f" y="19.9" width="23" height="3.5"/><text class="fx" x="2.4" y="22.4">Indexes</text><rect class="o" width="23" height="23.4"/></g>
<g id="physical_object" transform="translate(150,302)"><rect class="b" width="27" height="31.1"/><rect class="h" width="27" height="4"/><rect class="hl" x="0.6" y="1" width="1.3" height="2"/><rect class="hi" x="24.8" y="1" width="1.4" height="2"/><text class="tt" x="2.4" y="2.9">physical_object</text><rect class="i" x="0.8" y="4" width="1.5" height="23.1"/><text class="r"><tspan x="3" y="6.75">id INT(11)</tspan><tspan x="3" dy="3.85">type_id INT(11)</tspan><tspan x="3" dy="3.85">parent_id INT(11)</tspan><tspan x="3" dy="3.85">lft INT(11)</tspan><tspan x="3" dy="3.85">rgt INT(11)</tspan><tspan x="3" dy="3.85">serial_number INT(11)</tspan></text><rect class="f" y="27.6" width="27" height="3.5"/><text class="fx" x="2.4" y="30.1">Indexes</text><rect class="o" width="27" height="31.1"/></g>
<g id="menu_i18n" transform="translate(249,302)"><rect class="b" width="20" height="19.55"/><rect class="h" width="20" height="4"/><rect class="hl" x="0.6" y="1" width="1.3" height="2"/><rect class="hi" x="17.8" y="1" width="1.4" height="2"/><text class="tt" x="2.4" y="2.9">menu_i18n</text><rect class="i" x="0.8" y="4" width="1.5" height="11.55"/><text class="r"><tspan x="3" y="6.75">label TEXT</tspan><tspan x="3" dy="3.85">description TEXT</tspan><tspan x="3" dy="3.85">id INT(11)</tspan></text><rect class="f" y="16.05" width="20" height="3.5"/><text class="fx" x="2.4" y="18.55">Indexes</text><rect class="o" width="20" height="19.55"/></g>
<g id="setting" transform="translate(297,302)"><rect class="b" width="30" height="38.8"/><rect class="h" width="30" height="4"/><rect class="hl" x="0.6" y="1" width="1.3" height="2"/><rect class="hi" x="27.8" y="1" width="1.4" height="2"/><text class="tt" x="2.4" y="2.9">setting</text><rect class="i" x="0.8" y="4" width="1.5" height="30.8"/><text class="r"><tspan x="3" y="6.75">id INT(11)</tspan><tspan x="3" dy="3.85">name VARCHAR(255)</tspan><tspan x="3" dy="3.85">scope VARCHAR(255)</tspan><tspan x="3" dy="3.85">editable INT(11)</tspan><tspan x="3" dy="3.85">deleteable INT(11)</tspan><tspan x="3" dy="3.85">source_culture VARCHAR(16)</tspan><tspan x="3" dy="3.85">serial_number INT(11)</tspan><tspan x="3" dy="3.85">value TEXT</tspan></text><rect class="f" y="35.3" width="30" height="3.5"/><text class="fx" x="2.4" y="37.8">Indexes</text><rect class="o" width="30" height="38.8"/></g>
<g id="oai_repository" transform="translate(396,302)"><rect class="b" width="30" height="34.95"/><rect class="h" width="30" height="4"/><rect class="hl" x="0.6" y="1" width="1.3" height="2"/><rect class="hi" x="27.8" y="1" width="1.4" height="2"/><text class="tt" x="2.4" y="2.9">oai_repository</text><rect class="i" x="0.8" y="4" width="1.5" height="26.95"/><text class="r"><tspan x="3" y="6.75">id INT(11)</tspan><tspan x="3" dy="3.85">name TEXT</tspan><tspan x="3" dy="3.85">uri TEXT</tspan><tspan x="3" dy="3.85">admin_email TEXT</tspan><tspan x="3" dy="3.85">earliest_timestamp DATE</tspan><tspan x="3" dy="3.85">created_at DATETIME</tspan><tspan x="3" dy="3.85">updated_at DATETIME</tspan></text><rect class="f" y="31.45" width="30" height="3.5"/><text class="fx" x="2.4" y="33.95">Indexes</text><rect class="o" width="30" height="34.95"/></g>
<g id="digital_object" transform="translate(2,352)"><rect class="b" width="29" height="54.2"/><rect class="h" width="29" height="4"/><rect class="hl" x="0.6" y="1" width="1.3" height="2"/><rect class="hi" x="26.8" y="1" width="1.4" height="2"/><text class="tt" x="2.4" y="2.9">digital_object</text><rect class="i" x="0.8" y="4" width="1.5" height="46.2"/><text class="r"><tspan x="3" y="6.75">id INT(11)</tspan><tspan x="3" dy="3.85">object_id INT(11)</tspan><tspan x="3" dy="3.85">usage_id INT(11)</tspan><tspan x="3" dy="3.85">mime_type VARCHAR(255)</tspan><tspan x="3" dy="3.85">media_type_id INT(11)</tspan><tspan x="3" dy="3.85">name VARCHAR(1024)</tspan><tspan x="3" dy="3.85">path VARCHAR(1024)</tspan><tspan x="3" dy="3.85">sequence INT(11)</tspan><tspan x="3" dy="3.85">byte_size INT(11)</tspan><tspan x="3" dy="3.85">checksum VARCHAR(255)</tspan><tspan x="3" dy="3.85">checksum_type TEXT</tspan><tspan x="3" dy="3.85">parent_id INT(11)</tspan></text><rect class="f" y="50.7" width="29" height="3.5"/><text class="fx" x="2.4" y="53.2">Indexes</text><rect class="o" width="29" height="54.2"/></g>
<g id="function_object" transform="translate(52,352)"><rect class="b" width="26" height="46.5"/><rect class="h" width="26" height="4"/><rect class="hl" x="0.6" y="1" width="1.3" height="2"/><rect class="hi" x="23.8" y="1" width="1.4" height="2"/><text class="tt" x="2.4" y="2.9">function_object</text><rect class="i" x="0.8" y="4" width="1.5" height="38.5"/><text class="r"><tspan x="3" y="6.75">id INT(11)</tspan><tspan x="3" dy="3.85">type_id INT(11)</tspan><tspan x="3" dy="3.85">parent_id INT(11)</tspan><tspan x="3" dy="3.85">desc_status_id INT(11)</tspan><tspan x="3" dy="3.85">desc_detail_id INT(11)</tspan><tspan x="3" dy="3.85">desc_identifier TEXT</tspan><tspan x="3" dy="3.85">source_standard TEXT</tspan><tspan x="3" dy="3.85">lft INT(11)</tspan><tspan x="3" dy="3.85">rgt INT(11)</tspan><tspan x="3" dy="3.85">serial_number INT(11)</tspan></text><rect class="f" y="43" width="26" height="3.5"/><text class="fx" x="2.4" y="45.5">Indexes</text><rect class="o" width="26" height="46.5"/></g>
<g id="function_i18n" transform="translate(100,352)"><rect class="b" width="26" height="38.8"/><rect class="h" width="26" height="4"/><rect class="hl" x="0.6" y="1" width="1.3" height="2"/><rect class="hi" x="23.8" y="1" width="1.4" height="2"/><text class="tt" x="2.4" y="2.9">function_i18n</text><rect class="i" x="0.8" y="4" width="1.5" height="30.8"/><text class="r"><tspan x="3" y="6.75">authorized_form TEXT</tspan><tspan x="3" dy="3.85">classification TEXT</tspan><tspan x="3" dy="3.85">dates TEXT</tspan><tspan x="3" dy="3.85">description TEXT</tspan><tspan x="3" dy="3.85">history TEXT</tspan><tspan x="3" dy="3.85">legislation TEXT</tspan><tspan x="3" dy="3.85">id INT(11)</tspan><tspan x="3" dy="3.85">culture VARCHAR(16)</tspan></text><rect class="f" y="35.3" width="26" height="3.5"/><text class="fx" x="2.4" y="37.8">Indexes</text><rect class="o" width="26" height="38.8"/></g>
<g id="donor" transform="translate(150,352)"><rect class="b" width="13" height="11.85"/><rect class="h" width="13" height="4"/><rect class="hl" x="0.6" y="1" width="1.3" height="2"/><rect class="hi" x="10.8" y="1" width="1.4" height="2"/><text class="tt" x="2.4" y="2.9">donor</text><rect class="i" x="0.8" y="4" width="1.5" height="3.85"/><text class="r"><tspan x="3" y="6.75">id INT(11)</tspan></text><rect class="f" y="8.35" width="13" height="3.5"/><text class="fx" x="2.4" y="10.85">Indexes</text><rect class="o" width="13" height="11.85"/></g>
<g id="keymap" transform="translate(199,352)"><rect class="b" width="24" height="38.8"/><rect class="h" width="24" height="4"/><rect class="hl" x="0.6" y="1" width="1.3" height="2"/><rect class="hi" x="21.8" y="1" width="1.4" height="2"/><text class="tt" x="2.4" y="2.9">keymap</text><rect class="i" x="0.8" y="4" width="1.5" height="30.8"/><text class="r"><tspan x="3" y="6.75">id INT(11)</tspan><tspan x="3" dy="3.85">source_id TEXT</tspan><tspan x="3" dy="3.85">target_id INT(11)</tspan><tspan x="3" dy="3.85">source_name TEXT</tspan><tspan x="3" dy="3.85">target_name TEXT</tspan><tspan x="3" dy="3.85">serial_number INT(11)</tspan><tspan x="3" dy="3.85">created_at DATETIME</tspan><tspan x="3" dy="3.85">updated_at DATETIME</tspan></text><rect class="f" y="35.3" width="24" height="3.5"/><text class="fx" x="2.4" y="37.8">Indexes</text><rect class="o" width="24" height="38.8"/></g>
<g id="acl_user_group" transform="translate(249,352)"><rect class="b" width="26" height="15.7"/><rect class="h" width="26" height="4"/><rect class="hl" x="0.6" y="1" width="1.3" height="2"/><rect class="hi" x="23.8" y="1" width="1.4" height="2"/><text class="tt" x="2.4" y="2.9">acl_user_group</text><rect class="i" x="0.8" y="4" width="1.5" height="7.7"/><text class="r"><tspan x="3" y="6.75">id INT(11)</tspan><tspan x="3" dy="3.85">user_id INT(11)</tspan></text><rect class="f" y="12.2" width="26" height="3.5"/><text class="fx" x="2.4" y="14.7">Indexes</text><rect class="o" width="26" height="15.7"/></g>
<g id="acl_group_i18n" transform="translate(297,352)"><rect class="b" width="23" height="19.55"/><rect class="h" width="23" height="4"/><rect class="hl" x="0.6" y="1" width="1.3" height="2"/><rect class="hi" x="20.8" y="1" width="1.4" height="2"/><text class="tt" x="2.4" y="2.9">acl_group_i18n</text><rect class="i" x="0.8" y="4" width="1.5" height="11.55"/><text class="r"><tspan x="3" y="6.75">name TEXT</tspan><tspan x="3" dy="3.85">description TEXT</tspan><tspan x="3" dy="3.85">id INT(11)</tspan></text><rect class="f" y="16.05" width="23" height="3.5"/><text class="fx" x="2.4" y="18.55">Indexes</text><rect class="o" width="23" height="19.55"/></g>
<g id="user" transform="translate(347,352)"><rect class="b" width="26" height="42.65"/><rect class="h" width="26" height="4"/><rect class="hl" x="0.6" y="1" width="1.3" height="2"/><rect class="hi" x="23.8" y="1" width="1.4" height="2"/><text class="tt" x="2.4" y="2.9">user</text><rect class="i" x="0.8" y="4" width="1.5" height="34.65"/><text class="r"><tspan x="3" y="6.75">id INT(11)</tspan><tspan x="3" dy="3.85">username VARCHAR(255)</tspan><tspan x="3" dy="3.85">email VARCHAR(255)</tspan><tspan x="3" dy="3.85">sha1_password TEXT</tspan><tspan x="3" dy="3.85">salt VARCHAR(255)</tspan><tspan x="3" dy="3.85">active INT(11)</tspan><tspan x="3" dy="3.85">created_at DATETIME</tspan><tspan x="3" dy="3.85">updated_at DATETIME</tspan><tspan x="3" dy="3.85">serial_number INT(11)</tspan></text><rect class="f" y="39.15" width="26" height="3.5"/><text class="fx" x="2.4" y="41.65">Indexes</text><rect class="o" width="26" height="42.65"/></g>
<g id="information_object_i18n" transform="translate(100,401)"><rect class="b" width="45" height="96.55"/><rect class="h" width="45" height="4"/><rect class="hl" x="0.6" y="1" width="1.3" height="2"/><rect class="hi" x="42.8" y="1" width="1.4" height="2"/><text class="tt" x="2.4" y="2.9">information_object_i18n</text><rect class="i" x="0.8" y="4" width="1.5" height="88.55"/><text class="r"><tspan x="3" y="6.75">title VARCHAR(1024)</tspan><tspan x="3" dy="3.85">alternate_title VARCHAR(1024)</tspan><tspan x="3" dy="3.85">edition VARCHAR(1024)</tspan><tspan x="3" dy="3.85">extent_and_medium TEXT</tspan><tspan x="3" dy="3.85">archival_history TEXT</tspan><tspan x="3" dy="3.85">acquisition TEXT</tspan><tspan x="3" dy="3.85">scope_and_content TEXT</tspan><tspan x="3" dy="3.85">appraisal TEXT</tspan><tspan x="3" dy="3.85">accruals TEXT</tspan><tspan x="3" dy="3.85">arrangement TEXT</tspan><tspan x="3" dy="3.85">access_conditions TEXT</tspan><tspan x="3" dy="3.85">reproduction_conditions TEXT</tspan><tspan x="3" dy="3.85">physical_characteristics TEXT</tspan><tspan x="3" dy="3.85">finding_aids TEXT</tspan><tspan x="3" dy="3.85">location_of_originals TEXT</tspan><tspan x="3" dy="3.85">location_of_copies TEXT</tspan><tspan x="3" dy="3.85">related_units_of_description TEXT</tspan><tspan x="3" dy="3.85">institution_responsible_identifier TEXT</tspan><tspan x="3" dy="3.85">rules TEXT</tspan><tspan x="3" dy="3.85">sources TEXT</tspan><tspan x="3" dy="3.85">revision_history TEXT</tspan><tspan x="3" dy="3.85">id INT(11)</tspan><tspan x="3" dy="3.85">culture VARCHAR(16)</tspan></text><rect class="f" y="93.05" width="45" height="3.5"/><text class="fx" x="2.4" y="95.55">Indexes</text><rect class="o" width="45" height="96.55"/></g>
<g id="audit_log" transform="translate(150,401)"><rect class="b" width="30" height="46.5"/><rect class="h" width="30" height="4"/><rect class="hl" x="0.6" y="1" width="1.3" height="2"/><rect class="hi" x="27.8" y="1" width="1.4" height="2"/><text class="tt" x="2.4" y="2.9">audit_log</text><rect class="i" x="0.8" y="4" width="1.5" height="38.5"/><text class="r"><tspan x="3" y="6.75">id INT(11)</tspan><tspan x="3" dy="3.85">object_id INT(11)</tspan><tspan x="3" dy="3.85">record_id INT(11)</tspan><tspan x="3" dy="3.85">user_id INT(11)</tspan><tspan x="3" dy="3.85">action_type_id INT(11)</tspan><tspan x="3" dy="3.85">db_table VARCHAR(255)</tspan><tspan x="3" dy="3.85">db_query TEXT</tspan><tspan x="3" dy="3.85">field_key VARCHAR(255)</tspan><tspan x="3" dy="3.85">created_at DATETIME</tspan><tspan x="3" dy="3.85">serial_number INT(11)</tspan></text><rect class="f" y="43" width="30" height="3.5"/><text class="fx" x="2.4" y="45.5">Indexes</text><rect class="o" width="30" height="46.5"/></g>
<g id="event_i18n" transform="translate(199,401)"><rect class="b" width="29" height="31.1"/><rect class="h" width="29" height="4"/><rect class="hl" x="0.6" y="1" width="1.3" height="2"/><rect class="hi" x="26.8" y="1" width="1.4" height="2"/><text class="tt" x="2.4" y="2.9">event_i18n</text><rect class="i" x="0.8" y="4" width="1.5" height="23.1"/><text class="r"><tspan x="3" y="6.75">name VARCHAR(1024)</tspan><tspan x="3" dy="3.85">description TEXT</tspan><tspan x="3" dy="3.85">date VARCHAR(1024)</tspan><tspan x="3" dy="3.85">id INT(11)</tspan><tspan x="3" dy="3.85">culture VARCHAR(16)</tspan><tspan x="3" dy="3.85">serial_number INT(11)</tspan></text><rect class="f" y="27.6" width="29" height="3.5"/><text class="fx" x="2.4" y="30.1">Indexes</text><rect class="o" width="29" height="31.1"/></g>
<g id="object_term_relation" transform="translate(249,401)"><rect class="b" width="31" height="31.1"/><rect class="h" width="31" height="4"/><rect class="hl" x="0.6" y="1" width="1.3" height="2"/><rect class="hi" x="28.8" y="1" width="1.4" height="2"/><text class="tt" x="2.4" y="2.9">object_term_relation</text><rect class="i" x="0.8" y="4" width="1.5" height="23.1"/><text class="r"><tspan x="3" y="6.75">id INT(11)</tspan><tspan x="3" dy="3.85">object_id INT(11)</tspan><tspan x="3" dy="3.85">term_id INT(11)</tspan><tspan x="3" dy="3.85">start_date DATE</tspan><tspan x="3" dy="3.85">end_date DATE</tspan><tspan x="3" dy="3.85">serial_number INT(11)</tspan></text><rect class="f" y="27.6" width="31" height="3.5"/><text class="fx" x="2.4" y="30.1">Indexes</text><rect class="o" width="31" height="31.1"/></g>
<g id="oai_harvest" transform="translate(297,401)"><rect class="b" width="36" height="46.5"/><rect class="h" width="36" height="4"/><rect class="hl" x="0.6" y="1" width="1.3" height="2"/><rect class="hi" x="33.8" y="1" width="1.4" height="2"/><text class="tt" x="2.4" y="2.9">oai_harvest</text><rect class="i" x="0.8" y="4" width="1.5" height="38.5"/><text class="r"><tspan x="3" y="6.75">id INT(11)</tspan><tspan x="3" dy="3.85">oai_repository_id INT(11)</tspan><tspan x="3" dy="3.85">start_timestamp DATETIME</tspan><tspan x="3" dy="3.85">end_timestamp DATETIME</tspan><tspan x="3" dy="3.85">last_harvest DATETIME</tspan><tspan x="3" dy="3.85">last_harvest_attempt DATETIME</tspan><tspan x="3" dy="3.85">metadataPrefix VARCHAR(255)</tspan><tspan x="3" dy="3.85">set VARCHAR(255)</tspan><tspan x="3" dy="3.85">created_at DATETIME</tspan><tspan x="3" dy="3.85">serial_number INT(11)</tspan></text><rect class="f" y="43" width="36" height="3.5"/><text class="fx" x="2.4" y="45.5">Indexes</text><rect class="o" width="36" height="46.5"/></g>
<g id="bookmark" transform="translate(199,449)"><rect class="b" width="28" height="27.25"/><rect class="h" width="28" height="4"/><rect class="hl" x="0.6" y="1" width="1.3" height="2"/><rect class="hi" x="25.8" y="1" width="1.4" height="2"/><text class="tt" x="2.4" y="2.9">bookmark</text><rect class="i" x="0.8" y="4" width="1.5" height="19.25"/><text class="r"><tspan x="3" y="6.75">id INT(11)</tspan><tspan x="3" dy="3.85">user_id INT(11)</tspan><tspan x="3" dy="3.85">object_id INT(11)</tspan><tspan x="3" dy="3.85">name VARCHAR(255)</tspan><tspan x="3" dy="3.85">created_at DATETIME</tspan></text><rect class="f" y="23.75" width="28" height="3.5"/><text class="fx" x="2.4" y="26.25">Indexes</text><rect class="o" width="28" height="27.25"/></g>
</svg>
